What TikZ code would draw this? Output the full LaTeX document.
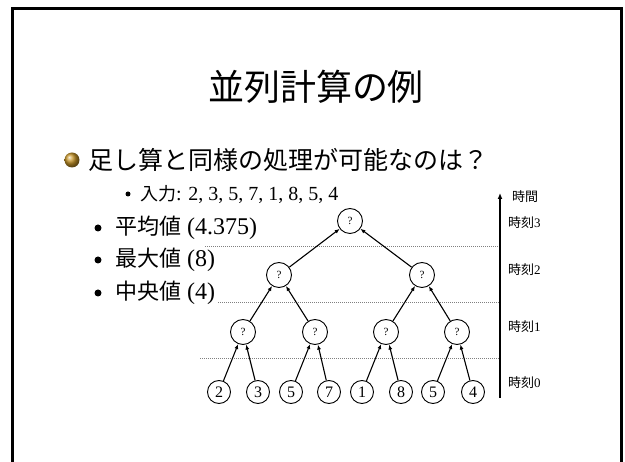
\documentclass[tikz,border=0pt]{standalone}
\usepackage{fontspec}
\setmainfont{Liberation Serif}
\newfontfamily\jp{Noto Sans CJK JP}
\usetikzlibrary{arrows.meta}
\definecolor{gold}{RGB}{200,150,40}
\begin{document}
\begin{tikzpicture}[x=1pt,y=-1pt,
  qnode/.style={circle,draw,line width=0.9pt,minimum size=25pt,inner sep=0pt,font=\fontsize{11}{12}\selectfont},
  leaf/.style={circle,draw,line width=0.9pt,minimum size=23pt,inner sep=0pt,font=\fontsize{16}{18}\selectfont},
  edge/.style={-{Latex[length=5pt,width=4pt]},line width=1.1pt},
  guide/.style={gray,dash pattern=on 1pt off 1pt,line width=0.8pt},
  dot/.style={circle,fill,inner sep=0pt},
  lbl/.style={anchor=west,inner sep=0pt,font=\fontsize{13}{15}\selectfont}]
\useasboundingbox (0,0) rectangle (625,462);
% frame
\draw[line width=3pt] (12.5,462) -- (12.5,8.5) -- (621,8.5) -- (621,462);
% title
\node[inner sep=0pt,font=\jp\fontsize{36}{40}\selectfont] (title) at (316,87) {並列計算の例};
% main bullet
\node[circle,shade,ball color=gold,minimum size=15pt,inner sep=0pt] (ball) at (72,160) {};
\node[anchor=west,inner sep=0pt,font=\jp\fontsize{25}{29}\selectfont] (q) at (88,160) {足し算と同様の処理が可能なのは？};
% input
\node[dot,minimum size=5pt] (d0) at (128,194) {};
\node[anchor=west,inner sep=0pt,font=\fontsize{20}{22}\selectfont] (inp) at (140,194) {{\jp\fontsize{18}{20}\selectfont 入力}: 2, 3, 5, 7, 1, 8, 5, 4};
% sub bullets
\node[dot,minimum size=7pt] (d1) at (98,228) {};
\node[anchor=west,inner sep=0pt,font=\fontsize{24}{26}\selectfont] (avg) at (115,228) {{\jp\fontsize{22}{24}\selectfont 平均値} (4.375)};
\node[dot,minimum size=7pt] (d2) at (98,260) {};
\node[anchor=west,inner sep=0pt,font=\fontsize{24}{26}\selectfont] (max) at (115,260) {{\jp\fontsize{22}{24}\selectfont 最大値} (8)};
\node[dot,minimum size=7pt] (d3) at (98,293) {};
\node[anchor=west,inner sep=0pt,font=\fontsize{24}{26}\selectfont] (med) at (115,293) {{\jp\fontsize{22}{24}\selectfont 中央値} (4)};
% guides
\coordinate (g1a) at (205,246.7); \coordinate (g1b) at (500,246.7);
\coordinate (g2a) at (218,302.7); \coordinate (g2b) at (500,302.7);
\coordinate (g3a) at (200,358.3); \coordinate (g3b) at (500,358.3);
\draw[guide] (g1a) -- (g1b);
\draw[guide] (g2a) -- (g2b);
\draw[guide] (g3a) -- (g3b);
% tree
\node[qnode] (r) at (350,221) {?};
\node[qnode] (m1) at (279,275) {?};
\node[qnode] (m2) at (422,275) {?};
\node[qnode] (n1) at (243,332) {?};
\node[qnode] (n2) at (315,332) {?};
\node[qnode] (n3) at (386,332) {?};
\node[qnode] (n4) at (457,332) {?};
\node[leaf] (a1) at (219,392) {2};
\node[leaf] (a2) at (258,392) {3};
\node[leaf] (a3) at (291,392) {5};
\node[leaf] (a4) at (329,392) {7};
\node[leaf] (a5) at (362,392) {1};
\node[leaf] (a6) at (401,392) {8};
\node[leaf] (a7) at (433,392) {5};
\node[leaf] (a8) at (473,392) {4};
\draw[edge] (m1) -- (r);
\draw[edge] (m2) -- (r);
\draw[edge] (n1) -- (m1);
\draw[edge] (n2) -- (m1);
\draw[edge] (n3) -- (m2);
\draw[edge] (n4) -- (m2);
\draw[edge] (a1) -- (n1);
\draw[edge] (a2) -- (n1);
\draw[edge] (a3) -- (n2);
\draw[edge] (a4) -- (n2);
\draw[edge] (a5) -- (n3);
\draw[edge] (a6) -- (n3);
\draw[edge] (a7) -- (n4);
\draw[edge] (a8) -- (n4);
% time axis
\coordinate (tb) at (500,398); \coordinate (tt) at (500,193);
\draw[-{Latex[length=6pt,width=5pt]},line width=2pt] (tb) -- (tt);
\node[lbl] (tl) at (512,197) {\jp 時間};
\node[lbl] (t3) at (508,223) {{\jp 時刻}3};
\node[lbl] (t2) at (508,270) {{\jp 時刻}2};
\node[lbl] (t1) at (508,327) {{\jp 時刻}1};
\node[lbl] (t0) at (508,383) {{\jp 時刻}0};
\end{tikzpicture}
\end{document}
